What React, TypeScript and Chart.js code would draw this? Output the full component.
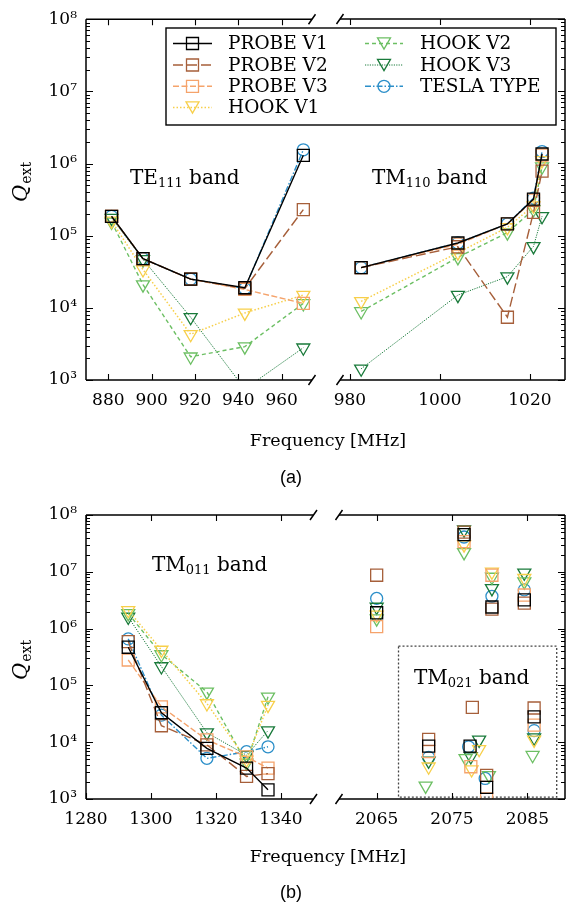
import React, { useEffect, useRef } from 'react';
import { Chart, registerables } from 'chart.js';
Chart.register(...registerables);

// ---------- series styling ----------
const SERIES_NAMES = ['PROBE V1', 'PROBE V2', 'PROBE V3', 'HOOK V1', 'HOOK V2', 'HOOK V3', 'TESLA TYPE'];
const COLORS = ['#000000', '#a65f3a', '#f5a36b', '#f7cf4a', '#6cbf63', '#197a3a', '#2c8fc9'];
const MARKERS = ['rect', 'rect', 'rect', 'tri', 'tri', 'tri', 'circle'];
const DASHES = [[], [10, 4], [6, 2.5], [1.5, 2], [4, 3], [1.2, 1.2], [6, 2, 1.5, 2]];
const LINE_WIDTHS = [1.4, 1.4, 1.4, 1.5, 1.4, 1.0, 1.4];

// ---------- axis ticks ----------
const Y_TICKS = [1e3, 1e4, 1e5, 1e6, 1e7, 1e8];
const A_LEFT_XTICKS = [880, 900, 920, 940, 960];
const A_RIGHT_XTICKS = [980, 1000, 1020];
const B_LEFT_XTICKS = [1280, 1300, 1320, 1340];
const B_RIGHT_XTICKS = [2065, 2075, 2085];

// ---------- panel (a): TE111 band ----------
const TE111_FREQ = [881.5, 896, 918, 943, 970];
const TE111_PROBE_V1 = [1.85e5, 4.8e4, 2.5e4, 1.9e4, 1.3e6];
const TE111_PROBE_V2 = [1.85e5, 4.8e4, 2.5e4, 1.85e4, 2.3e5];
const TE111_PROBE_V3 = [1.85e5, 4.8e4, 2.5e4, 1.8e4, 1.15e4];
const TE111_HOOK_V1 = [1.6e5, 3.4e4, 4.3e3, 8.5e3, 1.5e4];
const TE111_HOOK_V2 = [1.55e5, 2.1e4, 2.1e3, 2.9e3, 1.15e4];
const TE111_HOOK_V3 = [1.75e5, 4.7e4, 7.4e3, 750, 2.8e3];
const TE111_TESLA = [1.85e5, 4.8e4, 2.5e4, 1.85e4, 1.55e6];

// ---------- panel (a): TM110 band ----------
const TM110_FREQ = [982.5, 1004, 1015, 1020.8, 1022.7];
const TM110_PROBE_V1 = [3.6e4, 7.9e4, 1.45e5, 3.2e5, 1.35e6];
const TM110_PROBE_V2 = [3.6e4, 7.0e4, 7.4e3, 2.1e5, 7.8e5];
const TM110_PROBE_V3 = [3.6e4, 7.6e4, 1.45e5, 3.1e5, 1.3e6];
const TM110_HOOK_V1 = [1.23e4, 5.8e4, 1.3e5, 2.6e5, 1.1e6];
const TM110_HOOK_V2 = [8.9e3, 5.0e4, 1.1e5, 2.3e5, 9.0e5];
const TM110_HOOK_V3 = [1.43e3, 1.5e4, 2.7e4, 7.1e4, 1.85e5];
const TM110_TESLA = [3.6e4, 7.9e4, 1.45e5, 3.3e5, 1.46e6];

// ---------- panel (b): TM011 band ----------
const TM011_FREQ = [1293, 1303.2, 1317.2, 1329.4, 1336];
const TM011_PROBE_V1 = [4.7e5, 3.3e4, 7.8e3, 3.5e3, 1.45e3];
const TM011_PROBE_V2 = [5.9e5, 1.95e4, 9.0e3, 2.5e3, 2.8e3];
const TM011_PROBE_V3 = [2.8e5, 4.2e4, 1.1e4, 5.5e3, 3.5e3];
const TM011_HOOK_V1 = [2.1e6, 4.2e5, 4.8e4, 4.9e3, 4.5e4];
const TM011_HOOK_V2 = [1.85e6, 3.5e5, 7.7e4, 4.3e3, 6.3e4];
const TM011_HOOK_V3 = [1.6e6, 2.15e5, 1.47e4, 5.9e3, 1.6e4];
const TM011_TESLA = [6.6e5, 3.0e4, 5.2e3, 6.8e3, 8.3e3];

// ---------- panel (b): ~2 GHz modes (scatter) ----------
const HF_FREQ_PROBE_V1 = [2065, 2076.6, 2080.3, 2084.6, 2071.9, 2077.4, 2079.6, 2085.9];
const HF_Q_PROBE_V1 = [1.9e6, 4.5e7, 2.4e6, 3.2e6, 8.5e3, 8.5e3, 1.6e3, 2.8e4];
const HF_FREQ_PROBE_V2 = [2065, 2076.6, 2080.3, 2084.6, 2071.9, 2077.7, 2079.6, 2085.9];
const HF_Q_PROBE_V2 = [8.7e6, 5.0e7, 2.2e6, 2.8e6, 1.12e4, 4.1e4, 2.6e3, 4.0e4];
const HF_FREQ_PROBE_V3 = [2065, 2076.6, 2080.3, 2084.6, 2071.9, 2077.5, 2079.6, 2085.9];
const HF_Q_PROBE_V3 = [1.08e6, 3.4e7, 8.7e6, 3.9e6, 6.8e3, 3.7e3, 1.0e3, 2.0e4];
const HF_FREQ_HOOK_V1 = [2065, 2076.6, 2080.3, 2084.6, 2071.9, 2077.6, 2078.6, 2085.9];
const HF_Q_HOOK_V1 = [1.75e6, 3.0e7, 1.0e7, 7.7e6, 3.7e3, 3.3e3, 7.5e3, 1.1e4];
const HF_FREQ_HOOK_V2 = [2065, 2076.6, 2080.3, 2084.6, 2071.5, 2076.8, 2079.9, 2085.7];
const HF_Q_HOOK_V2 = [1.5e6, 2.2e7, 8.1e6, 6.7e6, 1.7e3, 5.2e3, 2.6e3, 5.9e3];
const HF_FREQ_HOOK_V3 = [2065, 2076.6, 2080.3, 2084.6, 2071.9, 2077.5, 2078.6, 2085.9];
const HF_Q_HOOK_V3 = [2.4e6, 5.5e7, 5.1e6, 9.6e6, 4.7e3, 5.6e3, 1.1e4, 1.2e4];
const HF_FREQ_TESLA = [2065, 2076.6, 2080.3, 2084.6, 2071.9, 2077.2, 2079.4, 2085.9];
const HF_Q_TESLA = [3.4e6, 4.1e7, 3.7e6, 4.8e6, 5.4e3, 8.3e3, 2.3e3, 1.6e4];

// TM021 dashed region (data coords)
const TM021_BOX_X = [2067.9, 2088.9];
const TM021_BOX_Y = [1.08e3, 4.9e5];

const FONT = '"DejaVu Serif"';
const SUP: Record<string, string> = { '0': '⁰', '1': '¹', '2': '²', '3': '³', '4': '⁴', '5': '⁵', '6': '⁶', '7': '⁷', '8': '⁸', '9': '⁹' };

function pts(xs: number[], ys: number[]) {
  return xs.map((x, i) => ({ x, y: ys[i] }));
}

function makeDataset(i: number, xs: number[], ys: number[], showLine: boolean) {
  const m = MARKERS[i];
  return {
    label: SERIES_NAMES[i],
    data: pts(xs, ys),
    showLine,
    borderColor: COLORS[i],
    backgroundColor: 'rgba(0,0,0,0)',
    borderWidth: LINE_WIDTHS[i],
    borderDash: DASHES[i],
    pointStyle: m === 'tri' ? 'triangle' : m,
    rotation: m === 'tri' ? 180 : 0,
    pointRadius: m === 'rect' ? 8.5 : m === 'tri' ? 7.5 : 6,
    pointBorderWidth: 1.3,
    pointBorderColor: COLORS[i],
    pointBackgroundColor: 'rgba(0,0,0,0)',
    tension: 0,
    fill: false,
  };
}

function drawMarkerTransparent(ctx: CanvasRenderingContext2D, kind: string, x: number, y: number, color: string) {
  ctx.save();
  ctx.setLineDash([]);
  ctx.strokeStyle = color;
  ctx.lineWidth = 1.3;
  ctx.beginPath();
  if (kind === 'rect') {
    ctx.rect(x - 6, y - 6, 12, 12);
  } else if (kind === 'circle') {
    ctx.arc(x, y, 6, 0, Math.PI * 2);
  } else {
    const r = 7.5;
    ctx.moveTo(x, y + 0.75 * r);
    ctx.lineTo(x - r * 0.866, y - 0.75 * r);
    ctx.lineTo(x + r * 0.866, y - 0.75 * r);
    ctx.closePath();
  }
  ctx.stroke();
  ctx.restore();
}

function drawParts(ctx: CanvasRenderingContext2D, x: number, y: number, parts: [string, boolean][], size: number, subSize: number) {
  ctx.save();
  ctx.fillStyle = '#000';
  ctx.textAlign = 'left';
  ctx.textBaseline = 'alphabetic';
  let cx = x;
  for (const [t, sub] of parts) {
    ctx.font = `${sub ? subSize : size}px ${FONT}`;
    ctx.fillText(t, cx, sub ? y + 3 : y);
    cx += ctx.measureText(t).width;
  }
  ctx.restore();
}

function drawQ(ctx: CanvasRenderingContext2D, x: number, yBottom: number) {
  ctx.save();
  ctx.translate(x, yBottom);
  ctx.rotate(-Math.PI / 2);
  ctx.fillStyle = '#000';
  ctx.textAlign = 'left';
  ctx.textBaseline = 'alphabetic';
  ctx.font = `italic 21px ${FONT}`;
  ctx.fillText('Q', 0, 0);
  const w = ctx.measureText('Q').width;
  ctx.font = `14px ${FONT}`;
  ctx.fillText('ext', w + 1, 4);
  ctx.restore();
}

function centerText(ctx: CanvasRenderingContext2D, text: string, x: number, y: number, font: string) {
  ctx.save();
  ctx.fillStyle = '#000';
  ctx.font = font;
  ctx.textAlign = 'center';
  ctx.textBaseline = 'middle';
  ctx.fillText(text, x, y);
  ctx.restore();
}

function drawLegend(ctx: CanvasRenderingContext2D) {
  const colX = [[173, 212, 228], [365, 403, 420]];
  const rowY = [43.5, 65, 86.3, 107.5];
  ctx.save();
  ctx.fillStyle = '#fff';
  ctx.fillRect(166, 28, 390, 97);
  ctx.strokeStyle = '#000';
  ctx.lineWidth = 1.4;
  ctx.setLineDash([]);
  ctx.strokeRect(166, 28, 390, 97);
  SERIES_NAMES.forEach((name, i) => {
    const c = i < 4 ? 0 : 1;
    const r = i < 4 ? i : i - 4;
    const [x0, x1, tx] = colX[c];
    const y = rowY[r];
    ctx.save();
    ctx.strokeStyle = COLORS[i];
    ctx.lineWidth = LINE_WIDTHS[i];
    ctx.setLineDash(DASHES[i]);
    ctx.beginPath();
    ctx.moveTo(x0, y);
    ctx.lineTo(x1, y);
    ctx.stroke();
    ctx.restore();
    drawMarkerTransparent(ctx, MARKERS[i], (x0 + x1) / 2, y, COLORS[i]);
    ctx.fillStyle = '#000';
    ctx.font = `18.5px ${FONT}`;
    ctx.textAlign = 'left';
    ctx.textBaseline = 'middle';
    ctx.fillText(name, tx, y + 1);
  });
  ctx.restore();
}

type PanelCfg = {
  side: 'left' | 'right';
  xMin: number;
  xMax: number;
  xTicks: number[];
  padding: { left: number; right: number; top: number; bottom: number };
  datasets: any[];
  before?: (chart: any) => void;
  after?: (chart: any) => void;
};

function axesPlugin(cfg: PanelCfg) {
  return {
    id: 'axesDeco',
    beforeDatasetsDraw(chart: any) {
      if (cfg.before) cfg.before(chart);
    },
    afterDraw(chart: any) {
      const ctx: CanvasRenderingContext2D = chart.ctx;
      const a = chart.chartArea;
      const xs = chart.scales.x;
      const ys = chart.scales.y;
      ctx.save();
      ctx.setLineDash([]);
      ctx.strokeStyle = '#000';
      ctx.lineWidth = 1.5;
      const ex = cfg.side === 'left' ? a.left : a.right;
      ctx.beginPath();
      ctx.moveTo(a.left, a.top);
      ctx.lineTo(a.right, a.top);
      ctx.moveTo(a.left, a.bottom);
      ctx.lineTo(a.right, a.bottom);
      ctx.moveTo(ex, a.top);
      ctx.lineTo(ex, a.bottom);
      ctx.stroke();

      ctx.lineWidth = 1.1;
      ctx.beginPath();
      for (const v of cfg.xTicks) {
        const p = Math.round(xs.getPixelForValue(v)) + 0.5;
        ctx.moveTo(p, a.bottom);
        ctx.lineTo(p, a.bottom - 6);
        ctx.moveTo(p, a.top);
        ctx.lineTo(p, a.top + 6);
      }
      const dir = cfg.side === 'left' ? 1 : -1;
      for (let d = 3; d <= 8; d++) {
        for (let m = 1; m <= 9; m++) {
          const v = m * Math.pow(10, d);
          if (v > 1e8 * 1.0001) break;
          const p = Math.round(ys.getPixelForValue(v)) + 0.5;
          const len = m === 1 ? 7 : 4;
          ctx.moveTo(ex, p);
          ctx.lineTo(ex + dir * len, p);
        }
      }
      ctx.stroke();

      const bx = cfg.side === 'left' ? a.right : a.left;
      ctx.lineWidth = 1.5;
      ctx.beginPath();
      for (const by of [a.top, a.bottom]) {
        ctx.moveTo(bx - 3.5, by + 5);
        ctx.lineTo(bx + 3.5, by - 5);
      }
      ctx.stroke();
      ctx.restore();
      if (cfg.after) cfg.after(chart);
    },
  };
}

function buildConfig(cfg: PanelCfg): any {
  const tickFont = { family: 'DejaVu Serif', size: 17 };
  return {
    type: 'line',
    data: { datasets: cfg.datasets },
    options: {
      responsive: false,
      animation: false,
      devicePixelRatio: 1,
      layout: { padding: cfg.padding, autoPadding: false },
      plugins: { legend: { display: false }, tooltip: { enabled: false }, title: { display: false } },
      events: [],
      scales: {
        x: {
          type: 'linear',
          min: cfg.xMin,
          max: cfg.xMax,
          afterBuildTicks: (s: any) => {
            s.ticks = cfg.xTicks.map((v) => ({ value: v }));
          },
          afterFit: (s: any) => {
            s.height = 30;
          },
          grid: { display: false, drawTicks: false },
          border: { display: false },
          ticks: {
            font: tickFont,
            color: '#000',
            padding: 10,
            maxRotation: 0,
            autoSkip: false,
            callback: (v: any) => String(v),
          },
        },
        y: {
          type: 'logarithmic',
          position: cfg.side,
          min: 1e3,
          max: 1e8,
          afterBuildTicks: (s: any) => {
            s.ticks = Y_TICKS.map((v) => ({ value: v }));
          },
          afterFit: (s: any) => {
            s.width = cfg.side === 'left' ? 86 : 0;
          },
          grid: { display: false, drawTicks: false },
          border: { display: false },
          ticks: {
            display: cfg.side === 'left',
            font: tickFont,
            color: '#000',
            padding: 9,
            autoSkip: false,
            callback: (v: any) => {
              const e = String(Math.round(Math.log10(Number(v))));
              return '10' + e.split('').map((c) => SUP[c]).join('');
            },
          },
        },
      },
    },
    plugins: [axesPlugin(cfg)],
  };
}

const A_PAD_TOP = 19;
const A_PAD_BOTTOM = 907 - 380 - 30;
const B_PAD_TOP = 515;
const B_PAD_BOTTOM = 907 - 799 - 30;

const PANELS: PanelCfg[] = [
  {
    side: 'left',
    xMin: 869.7,
    xMax: 974,
    xTicks: A_LEFT_XTICKS,
    padding: { left: 0, right: 566 - 312, top: A_PAD_TOP, bottom: A_PAD_BOTTOM },
    datasets: [
      makeDataset(0, TE111_FREQ, TE111_PROBE_V1, true),
      makeDataset(1, TE111_FREQ, TE111_PROBE_V2, true),
      makeDataset(2, TE111_FREQ, TE111_PROBE_V3, true),
      makeDataset(3, TE111_FREQ, TE111_HOOK_V1, true),
      makeDataset(4, TE111_FREQ, TE111_HOOK_V2, true),
      makeDataset(5, TE111_FREQ, TE111_HOOK_V3, true),
      makeDataset(6, TE111_FREQ, TE111_TESLA, true),
    ],
    after: (chart: any) => {
      const ctx = chart.ctx;
      drawParts(ctx, 130, 184, [['TE', false], ['111', true], [' band', false]], 20, 13);
      drawQ(ctx, 27, 202);
      centerText(ctx, 'Frequency [MHz]', 328, 441, `17.5px ${FONT}`);
      centerText(ctx, '(a)', 291, 478, '18px "Liberation Sans"');
    },
  },
  {
    side: 'right',
    xMin: 977.8,
    xMax: 1027.8,
    xTicks: A_RIGHT_XTICKS,
    padding: { left: 340, right: 1, top: A_PAD_TOP, bottom: A_PAD_BOTTOM },
    datasets: [
      makeDataset(0, TM110_FREQ, TM110_PROBE_V1, true),
      makeDataset(1, TM110_FREQ, TM110_PROBE_V2, true),
      makeDataset(2, TM110_FREQ, TM110_PROBE_V3, true),
      makeDataset(3, TM110_FREQ, TM110_HOOK_V1, true),
      makeDataset(4, TM110_FREQ, TM110_HOOK_V2, true),
      makeDataset(5, TM110_FREQ, TM110_HOOK_V3, true),
      makeDataset(6, TM110_FREQ, TM110_TESLA, true),
    ],
    after: (chart: any) => {
      const ctx = chart.ctx;
      drawParts(ctx, 372, 184, [['TM', false], ['110', true], [' band', false]], 20, 13);
      drawLegend(ctx);
    },
  },
  {
    side: 'left',
    xMin: 1280,
    xMax: 1350,
    xTicks: B_LEFT_XTICKS,
    padding: { left: 0, right: 566 - 313.5, top: B_PAD_TOP, bottom: B_PAD_BOTTOM },
    datasets: [
      makeDataset(0, TM011_FREQ, TM011_PROBE_V1, true),
      makeDataset(1, TM011_FREQ, TM011_PROBE_V2, true),
      makeDataset(2, TM011_FREQ, TM011_PROBE_V3, true),
      makeDataset(3, TM011_FREQ, TM011_HOOK_V1, true),
      makeDataset(4, TM011_FREQ, TM011_HOOK_V2, true),
      makeDataset(5, TM011_FREQ, TM011_HOOK_V3, true),
      makeDataset(6, TM011_FREQ, TM011_TESLA, true),
    ],
    after: (chart: any) => {
      const ctx = chart.ctx;
      drawParts(ctx, 152, 571, [['TM', false], ['011', true], [' band', false]], 20, 13);
      drawQ(ctx, 27, 680);
      centerText(ctx, 'Frequency [MHz]', 328, 857, `17.5px ${FONT}`);
      centerText(ctx, '(b)', 291, 893, '18px "Liberation Sans"');
    },
  },
  {
    side: 'right',
    xMin: 2060,
    xMax: 2090,
    xTicks: B_RIGHT_XTICKS,
    padding: { left: 339, right: 1, top: B_PAD_TOP, bottom: B_PAD_BOTTOM },
    datasets: [
      makeDataset(0, HF_FREQ_PROBE_V1, HF_Q_PROBE_V1, false),
      makeDataset(1, HF_FREQ_PROBE_V2, HF_Q_PROBE_V2, false),
      makeDataset(2, HF_FREQ_PROBE_V3, HF_Q_PROBE_V3, false),
      makeDataset(3, HF_FREQ_HOOK_V1, HF_Q_HOOK_V1, false),
      makeDataset(4, HF_FREQ_HOOK_V2, HF_Q_HOOK_V2, false),
      makeDataset(5, HF_FREQ_HOOK_V3, HF_Q_HOOK_V3, false),
      makeDataset(6, HF_FREQ_TESLA, HF_Q_TESLA, false),
    ],
    before: (chart: any) => {
      const ctx: CanvasRenderingContext2D = chart.ctx;
      const xs = chart.scales.x;
      const ys = chart.scales.y;
      const x1 = xs.getPixelForValue(TM021_BOX_X[0]);
      const x2 = xs.getPixelForValue(TM021_BOX_X[1]);
      const y1 = ys.getPixelForValue(TM021_BOX_Y[1]);
      const y2 = ys.getPixelForValue(TM021_BOX_Y[0]);
      ctx.save();
      ctx.strokeStyle = '#444';
      ctx.lineWidth = 1.3;
      ctx.setLineDash([2, 2]);
      ctx.strokeRect(x1, y1, x2 - x1, y2 - y1);
      ctx.restore();
      drawParts(ctx, 414, 684, [['TM', false], ['021', true], [' band', false]], 20, 13);
    },
  },
];

export default function App() {
  const refs = useRef<(HTMLCanvasElement | null)[]>([]);
  useEffect(() => {
    const charts = PANELS.map((p, i) => new Chart(refs.current[i] as HTMLCanvasElement, buildConfig(p)));
    return () => charts.forEach((c) => c.destroy());
  }, []);
  return (
    <div style={{ position: 'fixed', left: 0, top: 0, width: 566, height: 907, background: '#fff' }}>
      {PANELS.map((_, i) => (
        <canvas
          key={i}
          ref={(el) => {
            refs.current[i] = el;
          }}
          width={566}
          height={907}
          style={{ position: 'absolute', left: 0, top: 0, width: 566, height: 907 }}
        />
      ))}
    </div>
  );
}
